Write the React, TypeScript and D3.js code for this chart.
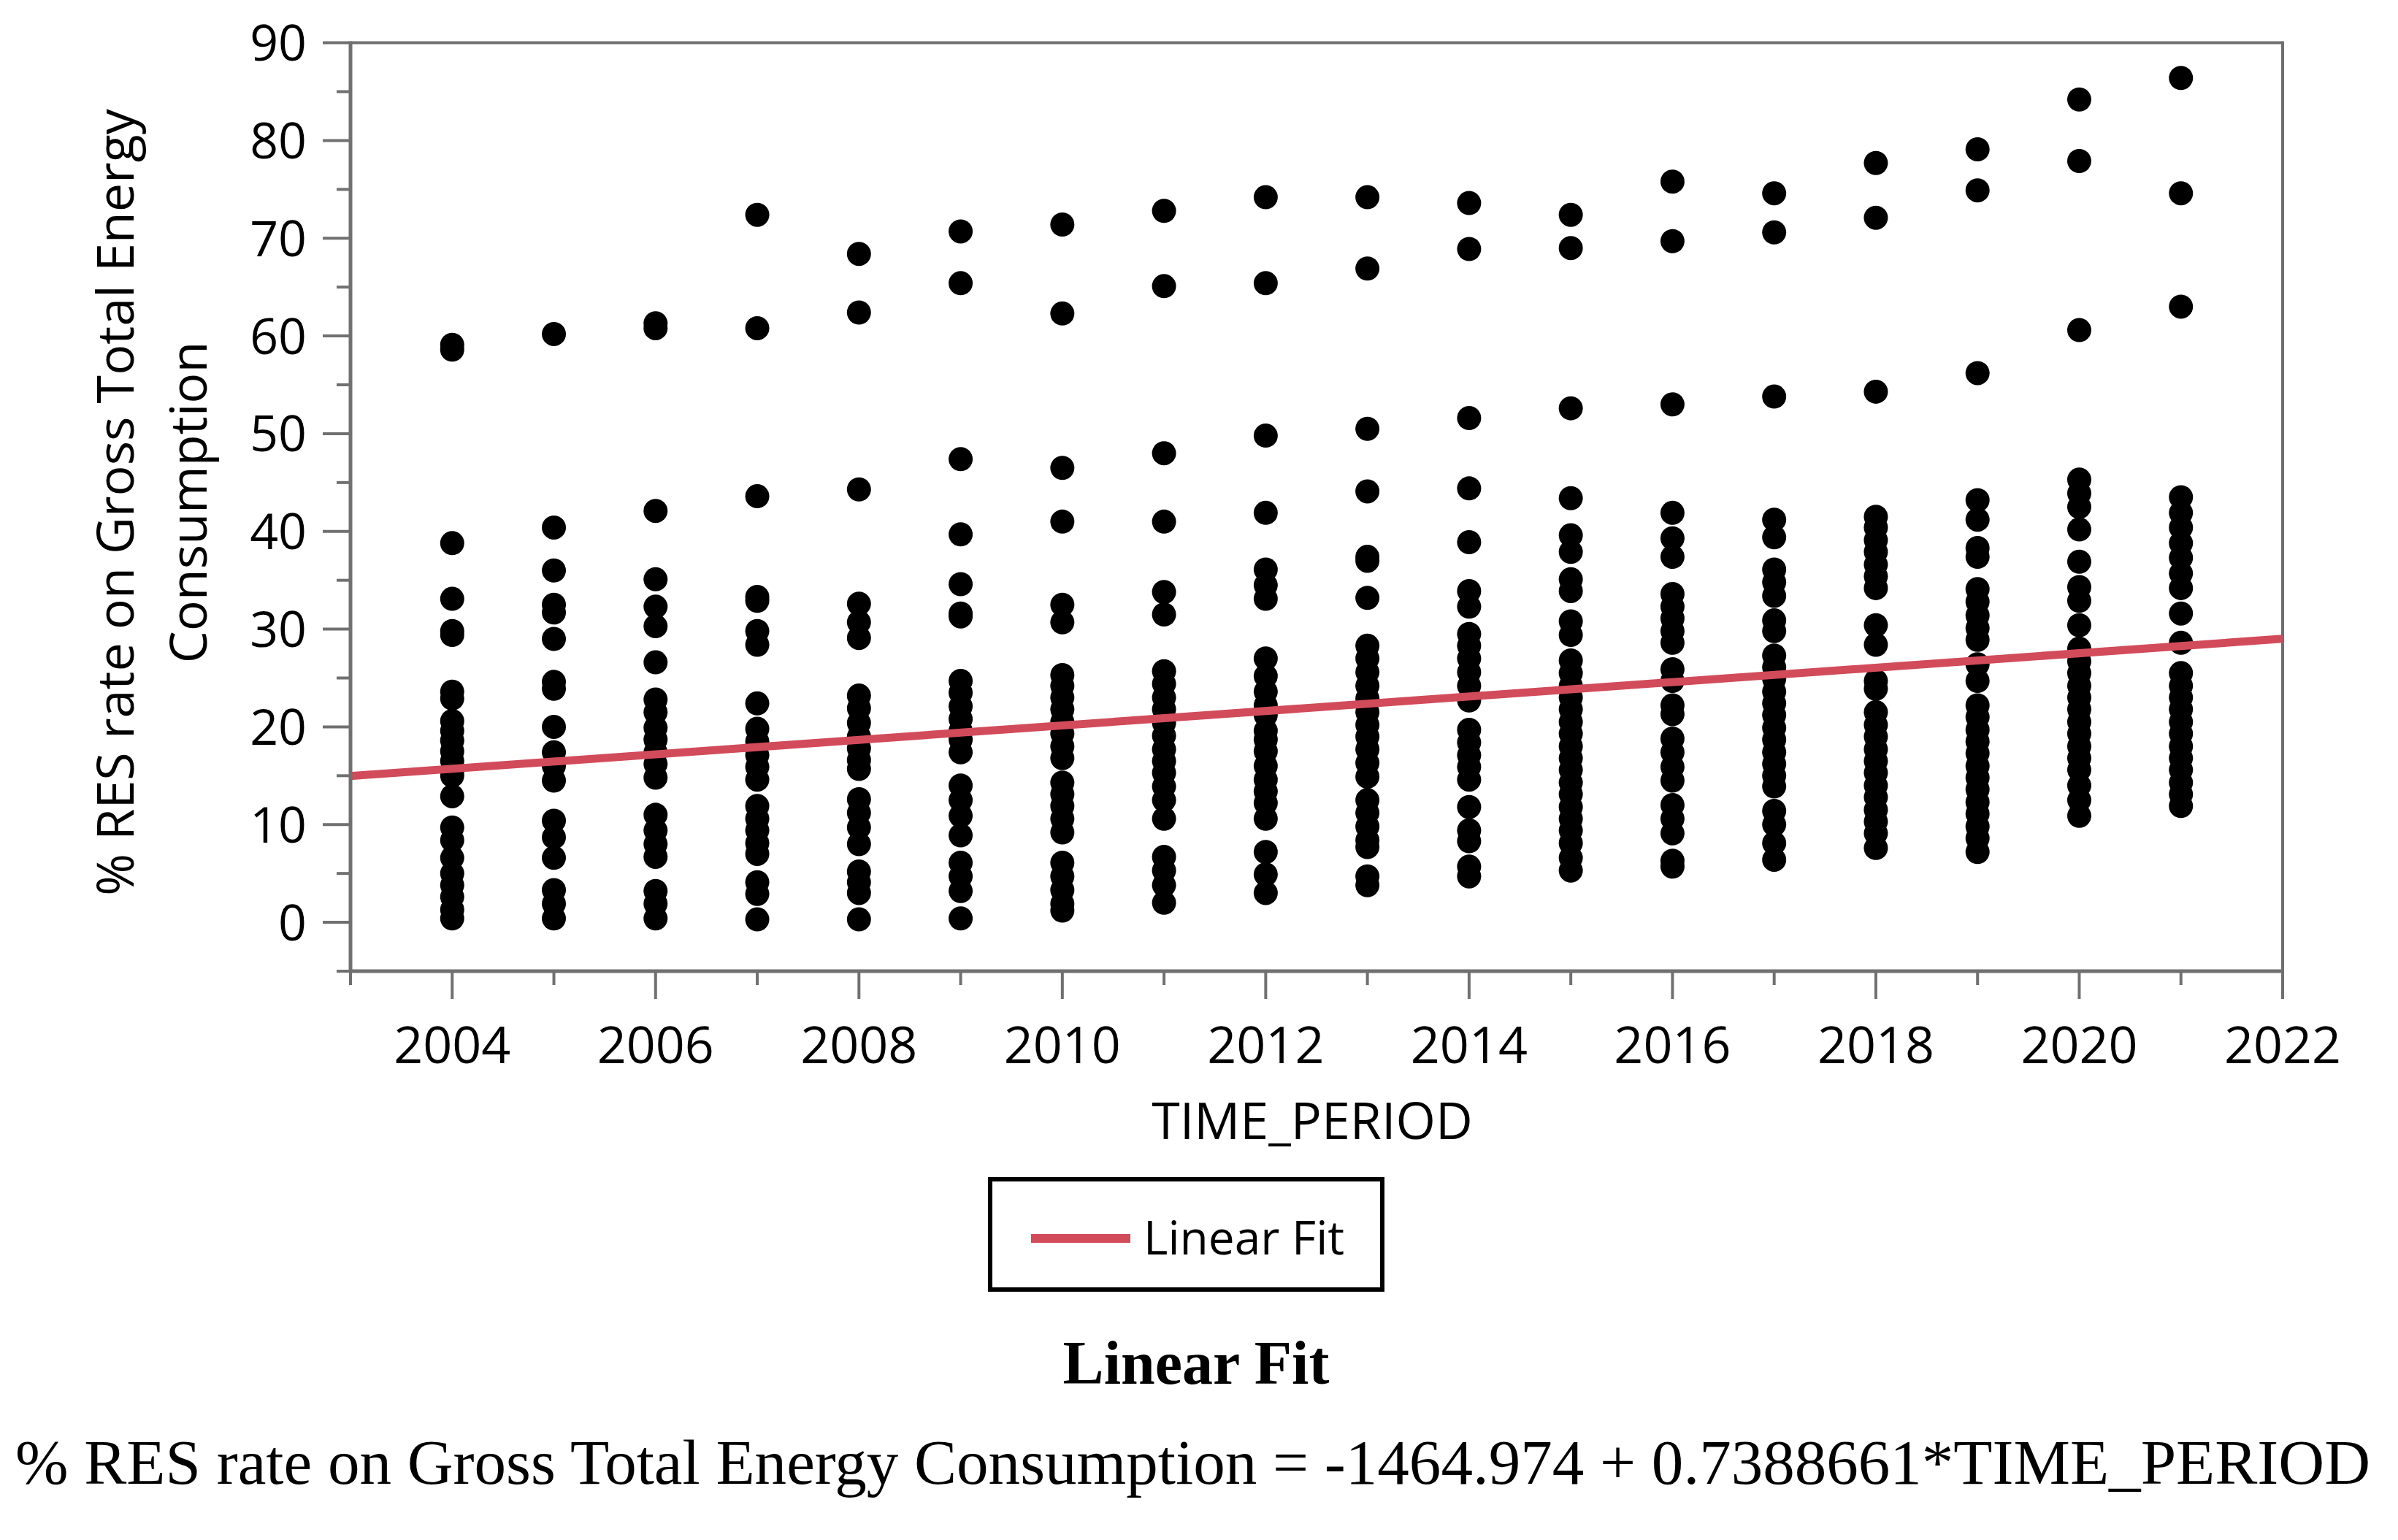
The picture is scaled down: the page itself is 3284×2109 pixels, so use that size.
import React from "react";
import * as d3 from "d3";

// ---- data ----
const years = [2004, 2005, 2006, 2007, 2008, 2009, 2010, 2011, 2012, 2013, 2014, 2015, 2016, 2017, 2018, 2019, 2020, 2021];

const v2004 = [59.1, 58.6, 38.8, 33.1, 29.8, 29.4, 23.6, 22.9, 20.6, 19.6, 18.6, 17.5, 16.5, 15.5, 15.0, 12.9, 9.7, 8.4, 6.6, 5.0, 3.8, 2.6, 1.3, 0.4];
const v2005 = [60.2, 40.4, 36.0, 32.5, 31.7, 29.0, 24.6, 23.9, 20.0, 17.4, 16.0, 14.5, 10.4, 8.7, 6.6, 3.3, 1.9, 0.4];
const v2006 = [61.3, 60.8, 42.1, 35.1, 32.3, 30.3, 26.6, 22.8, 21.5, 19.9, 18.7, 17.4, 16.2, 14.8, 11.0, 9.4, 8.0, 6.7, 3.2, 1.9, 0.4];
const v2007 = [72.4, 60.8, 43.6, 33.3, 32.9, 29.8, 28.4, 22.4, 19.8, 18.5, 17.1, 15.9, 14.6, 11.9, 10.6, 9.4, 8.1, 7.0, 4.1, 2.9, 0.3];
const v2008 = [68.4, 62.4, 44.3, 32.6, 30.7, 29.1, 23.2, 21.9, 20.4, 19.0, 17.8, 16.6, 15.7, 12.6, 11.2, 9.7, 8.0, 5.2, 4.1, 3.0, 0.3];
const v2009 = [70.7, 65.4, 47.4, 39.7, 34.6, 31.6, 31.3, 24.7, 23.5, 22.1, 20.8, 19.6, 18.7, 17.4, 14.0, 12.5, 10.9, 8.9, 6.1, 4.7, 3.2, 0.4];
const v2010 = [71.4, 62.3, 46.5, 41.0, 32.5, 30.7, 25.3, 24.2, 23.0, 21.8, 20.5, 19.3, 18.0, 16.8, 14.3, 13.1, 11.9, 10.6, 9.2, 6.1, 4.7, 3.3, 1.9, 1.2];
const v2011 = [72.8, 65.1, 48.0, 41.0, 33.8, 31.5, 25.7, 24.4, 23.0, 21.8, 20.4, 19.1, 17.7, 16.5, 15.3, 13.9, 12.5, 10.6, 6.7, 5.3, 3.8, 2.0];
const v2012 = [74.2, 65.4, 49.8, 41.9, 36.1, 34.5, 33.1, 27.0, 25.2, 23.6, 22.2, 21.2, 19.6, 18.7, 17.5, 16.0, 14.6, 13.4, 12.2, 10.6, 7.2, 4.9, 3.0];
const v2013 = [74.2, 66.9, 50.5, 44.1, 37.4, 37.0, 33.2, 28.3, 27.0, 25.6, 24.2, 22.9, 21.5, 20.2, 19.0, 17.7, 16.3, 14.9, 12.5, 11.2, 9.8, 8.4, 7.7, 4.7, 3.8];
const v2014 = [73.6, 68.9, 51.6, 44.4, 38.9, 33.9, 32.3, 29.5, 28.3, 27.0, 25.6, 24.2, 22.7, 19.7, 18.4, 17.1, 15.9, 14.6, 11.8, 9.4, 8.3, 5.7, 4.7];
const v2015 = [72.4, 69.0, 52.6, 43.4, 39.6, 37.9, 35.1, 33.9, 30.8, 29.4, 26.8, 25.5, 24.2, 23.0, 21.8, 20.5, 19.3, 18.0, 16.8, 15.6, 14.3, 13.1, 11.8, 10.6, 9.4, 8.1, 6.6, 5.3];
const v2016 = [75.8, 69.7, 53.0, 41.9, 39.3, 37.4, 33.6, 32.3, 31.1, 29.8, 28.6, 25.9, 24.7, 22.2, 21.3, 18.8, 17.4, 15.9, 14.5, 12.0, 10.6, 9.1, 6.3, 5.7];
const v2017 = [74.6, 70.6, 53.8, 41.2, 39.4, 36.1, 34.8, 33.4, 30.9, 29.8, 27.3, 26.1, 24.9, 23.6, 22.4, 21.2, 19.9, 18.7, 17.4, 16.2, 15.0, 13.9, 11.4, 10.0, 8.1, 6.4];
const v2018 = [77.7, 72.1, 54.3, 41.5, 40.4, 39.1, 37.9, 36.6, 35.4, 34.2, 30.4, 28.4, 24.7, 23.9, 21.5, 20.2, 19.0, 17.7, 16.5, 15.3, 14.0, 12.8, 11.5, 10.3, 9.1, 7.6];
const v2019 = [79.1, 74.9, 56.2, 43.2, 41.2, 38.3, 37.4, 34.1, 32.8, 31.4, 30.1, 28.9, 26.4, 24.7, 22.2, 21.0, 19.7, 18.5, 17.3, 16.0, 14.8, 13.6, 12.3, 11.1, 9.8, 8.6, 7.2];
const v2020 = [84.2, 77.9, 60.6, 45.3, 43.9, 42.5, 40.2, 36.9, 34.3, 32.9, 30.4, 28.0, 26.7, 25.5, 24.2, 23.0, 21.8, 20.5, 19.3, 18.0, 16.8, 15.6, 14.0, 12.5, 10.9];
const v2021 = [86.4, 74.6, 63.0, 43.5, 41.9, 40.4, 38.8, 37.3, 35.7, 34.2, 31.6, 28.6, 25.5, 24.2, 23.0, 21.8, 20.5, 19.3, 18.0, 16.8, 15.6, 14.3, 13.1, 11.9];

const seriesByYear = [v2004, v2005, v2006, v2007, v2008, v2009, v2010, v2011, v2012, v2013, v2014, v2015, v2016, v2017, v2018, v2019, v2020, v2021];

const fitIntercept = -1464.974;
const fitSlope = 0.7388661;

const yMajorTicks = [0, 10, 20, 30, 40, 50, 60, 70, 80, 90];
const yMinorTicks = [-5, 5, 15, 25, 35, 45, 55, 65, 75, 85];
const xMajorTicks = [2004, 2006, 2008, 2010, 2012, 2014, 2016, 2018, 2020, 2022];
const xMinorTicks = [2003, 2005, 2007, 2009, 2011, 2013, 2015, 2017, 2019, 2021];

const yTitleLines = ["% RES rate on Gross Total Energy", "Consumption"];
const xTitle = "TIME_PERIOD";
const legendLabel = "Linear Fit";
const reportTitle = "Linear Fit";
const equationText = "% RES rate on Gross Total Energy Consumption = -1464.974 + 0.7388661*TIME_PERIOD";

// ---- layout ----
const W = 3284;
const H = 2109;
const left = 480, right = 3126, top = 58.6, bottom = 1330;
const axisColor = "#707070";
const fitColor = "#d24b5b";
const sans = "'Open Sans', sans-serif";
const serif = "'Liberation Serif', 'Times New Roman', serif";

export default function App() {
  const x = d3.scaleLinear().domain([2003, 2022]).range([left, right]);
  const y = d3.scaleLinear().domain([-5, 90]).range([bottom, top]);

  const points: { yr: number; v: number }[] = [];
  years.forEach((yr, i) => seriesByYear[i].forEach((v) => points.push({ yr, v })));

  const fitLine = d3
    .line<number>()
    .x((d) => x(d))
    .y((d) => y(fitIntercept + fitSlope * d));

  return (
    <svg
      width={W}
      height={H}
      viewBox={`0 0 ${W} ${H}`}
      style={{ position: "absolute", left: 0, top: 0, background: "#fff" }}
    >
      <rect x={0} y={0} width={W} height={H} fill="#fff" />

      {/* frame top/right */}
      <line x1={left} x2={right} y1={top} y2={top} stroke={axisColor} strokeWidth={4} />
      <line x1={right} x2={right} y1={top - 2} y2={bottom} stroke={axisColor} strokeWidth={4} />

      {/* points */}
      <g>
        {points.map((p, i) => (
          <circle key={i} cx={x(p.yr)} cy={y(p.v)} r={16.5} fill="#000" />
        ))}
      </g>

      {/* fit line */}
      <path d={fitLine([2003, 2022]) || ""} stroke={fitColor} strokeWidth={11} fill="none" />

      {/* y axis */}
      <line x1={left} x2={left} y1={top - 2} y2={bottom + 2} stroke={axisColor} strokeWidth={5} />
      {yMajorTicks.map((t) => (
        <line key={"ym" + t} x1={left - 38} x2={left} y1={y(t)} y2={y(t)} stroke={axisColor} strokeWidth={4} />
      ))}
      {yMinorTicks.map((t) => (
        <line key={"yn" + t} x1={left - 19} x2={left} y1={y(t)} y2={y(t)} stroke={axisColor} strokeWidth={4} />
      ))}
      {yMajorTicks.map((t) => (
        <text
          key={"yl" + t}
          x={left - 60}
          y={y(t)}
          dy="0.36em"
          textAnchor="end"
          fontFamily={sans}
          fontSize={68}
          fill="#000"
        >
          {t}
        </text>
      ))}

      {/* x axis */}
      <line x1={left - 2} x2={right + 2} y1={bottom} y2={bottom} stroke={axisColor} strokeWidth={5} />
      {xMajorTicks.map((t) => (
        <line key={"xm" + t} x1={x(t)} x2={x(t)} y1={bottom} y2={bottom + 38} stroke={axisColor} strokeWidth={4} />
      ))}
      {xMinorTicks.map((t) => (
        <line key={"xn" + t} x1={x(t)} x2={x(t)} y1={bottom} y2={bottom + 19} stroke={axisColor} strokeWidth={4} />
      ))}
      {xMajorTicks.map((t) => (
        <text
          key={"xl" + t}
          x={x(t)}
          y={1456}
          textAnchor="middle"
          fontFamily={sans}
          fontSize={70}
          fill="#000"
        >
          {t}
        </text>
      ))}

      {/* axis titles */}
      <text x={(left + right) / 2 - 6} y={1560} textAnchor="middle" fontFamily={sans} fontSize={70} fill="#000">
        {xTitle}
      </text>
      {yTitleLines.map((line, i) => (
        <text
          key={"yt" + i}
          transform={`translate(${183 + i * 100}, 688) rotate(-90)`}
          textAnchor="middle"
          fontFamily={sans}
          fontSize={70}
          fill="#000"
        >
          {line}
        </text>
      ))}

      {/* legend */}
      <rect x={1356} y={1615} width={537} height={151} fill="#fff" stroke="#000" strokeWidth={6} />
      <line x1={1412} x2={1548} y1={1696} y2={1696} stroke={fitColor} strokeWidth={12} />
      <text x={1566} y={1718} fontFamily={sans} fontSize={64} fill="#000">
        {legendLabel}
      </text>

      {/* report title and equation */}
      <text x={1638} y={1895} textAnchor="middle" fontFamily={serif} fontWeight="bold" fontSize={84} fill="#000">
        {reportTitle}
      </text>
      <text
        x={21}
        y={2032}
        fontFamily={serif}
        fontSize={86}
        fill="#000"
        textLength={3225}
        lengthAdjust="spacingAndGlyphs"
      >
        {equationText}
      </text>
    </svg>
  );
}
